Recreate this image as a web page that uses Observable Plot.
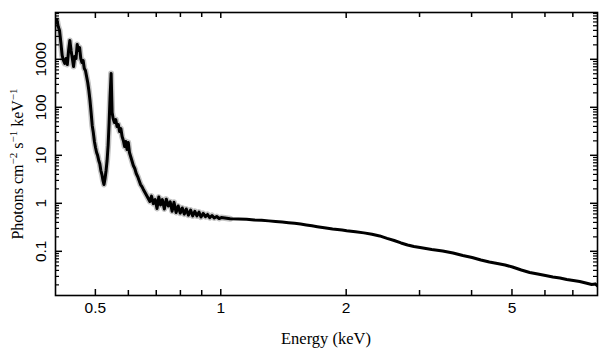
<!DOCTYPE html>
<html><head><meta charset="utf-8">
<script src="https://cdn.jsdelivr.net/npm/d3@7"></script>
<script src="https://cdn.jsdelivr.net/npm/@observablehq/plot@0.6"></script>
<style>html,body{margin:0;padding:0;background:#fff}#chart{width:609px;height:357px}</style>
</head><body><div id="chart"></div>
<script>
// Energy (keV) and flux (photons cm^-2 s^-1 keV^-1)
const energy = [
  0.400,0.403,0.406,0.409,0.412,0.415,0.418,0.421,0.424,0.427,0.430,0.433,0.436,0.439,0.442,0.445,0.448,0.451,0.454,0.457,
  0.460,0.463,0.466,0.469,0.472,0.475,0.478,0.481,0.484,0.487,0.490,0.493,0.496,0.499,0.502,0.505,0.508,0.511,0.514,0.517,
  0.520,0.523,0.526,0.529,0.532,0.535,0.538,0.541,0.544,0.547,0.550,
  0.554,0.558,0.562,0.566,0.570,0.574,0.578,0.582,0.586,0.590,0.594,0.598,0.602,0.606,0.610,
  0.615,0.620,0.625,0.630,0.635,0.640,0.645,0.650,
  0.656,0.662,0.668,0.674,0.680,
  0.687,0.694,0.701,0.708,0.715,0.722,
  0.730,0.738,0.746,0.754,0.762,0.770,
  0.779,0.788,0.797,0.806,0.815,0.824,
  0.834,0.844,0.854,0.864,0.874,0.884,0.894,
  0.905,0.916,0.927,0.938,0.950,0.962,0.975,0.988,1.000,
  1.05,1.1,1.15,1.2,1.25,1.3,1.35,1.4,1.45,1.5,1.55,1.6,1.65,1.7,1.75,1.8,1.85,1.9,1.95,2.0,
  2.1,2.2,2.3,2.4,2.5,2.6,2.7,2.8,2.9,3.0,3.2,3.4,3.6,3.8,4.0,4.2,4.4,4.6,4.8,5.0,
  5.25,5.5,5.75,6.0,6.25,6.5,6.75,7.0,7.25,7.5,7.75,7.9,8.0
];
const flux = [
  5990,6910,4940,4080,2290,1230,967,838,1064,798,1560,2520,1560,1064,724,1170,1064,2080,1560,1800,
  1064,879,967,659,599,449,337,229,142,79.8,42.8,30.5,19.9,14.9,11.7,10.1,7.98,6.84,4.94,4.08,
  3.06,2.52,3.37,4.94,7.98,16.4,49.4,180,519,79.8,59.9,
  49.4,57.0,40.8,44.9,32.1,37.0,25.2,20.8,15.6,19.9,13.5,18.9,11.7,9.67,7.98,
  6.28,5.44,4.28,3.70,3.06,2.52,2.29,1.99,
  1.72,1.49,1.29,1.12,1.45,
  1.01,1.23,0.80,1.38,0.95,1.22,
  0.78,1.25,0.90,1.10,0.70,1.08,
  0.66,0.90,0.64,0.82,0.61,0.78,
  0.58,0.74,0.56,0.70,0.56,0.67,0.53,
  0.63,0.54,0.60,0.515,0.571,0.506,0.544,0.494,0.518,
  0.488,0.482,0.476,0.460,0.455,0.441,0.430,0.418,0.405,0.392,0.378,0.362,0.348,0.334,0.322,0.310,0.300,0.293,0.285,0.276,
  0.262,0.248,0.232,0.214,0.190,0.172,0.153,0.139,0.129,0.123,0.112,0.104,0.0944,0.0838,0.0761,0.0675,0.0613,0.0571,0.0531,0.0482,
  0.0418,0.0371,0.0345,0.0321,0.0299,0.0285,0.0265,0.0252,0.0241,0.0224,0.0208,0.0215,0.0194
];
const xTicks = [0.5,0.6,0.7,0.8,0.9,1,2,3,4,5,6,7];
const xTickLabels = [0.5,1,2,5];
const yTickLabels = [0.1,1,10,100,1000];
const yMinorTicks = [0.02,0.03,0.04,0.05,0.06,0.07,0.08,0.09,0.2,0.3,0.4,0.5,0.6,0.7,0.8,0.9,
  2,3,4,5,6,7,8,9,20,30,40,50,60,70,80,90,200,300,400,500,600,700,800,900,2000,3000,4000,5000,6000,7000,8000,9000];
const xTitle = "Energy (keV)";
const yTitleParts = [["Photons cm", false], ["\u22122", true], [" s", false], ["\u22121", true], [" keV", false], ["\u22121", true]];

const data = energy.map((e, i) => ({e, f: flux[i]}));
const W = 609, H = 357, mL = 55, mR = 12, mT = 12, mB = 62;
const sans = "'Liberation Sans', Arial, Helvetica, sans-serif";
const serif = "'Liberation Serif', 'Times New Roman', serif";

const svg = Plot.plot({
  width: W, height: H,
  marginLeft: mL, marginRight: mR, marginTop: mT, marginBottom: mB,
  x: {type: "log", domain: [0.4, 8.0], axis: null},
  y: {type: "log", domain: [0.0123, 9670], axis: null},
  style: {background: "#fff", color: "#000"},
  marks: [
    Plot.line(data.filter(d => d.e <= 1.05), {x: "e", y: "f", stroke: "#c4c4c4", strokeWidth: 6, clip: true}),
    Plot.line(data, {x: "e", y: "f", stroke: "#000", strokeWidth: 3, clip: true}),
    Plot.frame({stroke: "#000", strokeWidth: 1.6})
  ]
});

const sx = v => svg.scale("x").apply(v);
const sy = v => svg.scale("y").apply(v);
const fTop = mT, fBottom = H - mB, fLeft = mL, fRight = W - mR;
const s = d3.select(svg);
const g = s.append("g").attr("class", "inward-ticks");

// inward ticks on all four sides, placed through the plot's own scales
function tick(x1, y1, x2, y2, sw) {
  g.append("path").attr("d", `M${x1},${y1}L${x2},${y2}`)
    .attr("stroke", "#000").attr("stroke-width", sw).attr("fill", "none")
    .style("stroke", "#000").style("stroke-width", sw + "px");
}
for (const v of xTicks) {
  const len = xTickLabels.includes(v) ? 6 : 5;
  const x = sx(v);
  tick(x, fBottom, x, fBottom - len, 1.5);
  tick(x, fTop, x, fTop + len, 1.5);
}
for (const v of yTickLabels) {
  const y = sy(v);
  tick(fLeft, y, fLeft + 7, y, 1.5);
  tick(fRight, y, fRight - 7, y, 1.5);
}
for (const v of yMinorTicks) {
  const y = sy(v);
  if (y < fTop || y > fBottom) continue;
  tick(fLeft, y, fLeft + 4, y, 1.2);
  tick(fRight, y, fRight - 4, y, 1.2);
}

// tick labels
for (const v of xTickLabels) {
  s.append("text").attr("x", sx(v)).attr("y", 313.3).attr("text-anchor", "middle")
    .style("font-family", sans).style("font-size", "15.5px").attr("fill", "#000").text(String(v));
}
for (const v of yTickLabels) {
  s.append("text").attr("transform", `translate(46,${sy(v)}) rotate(-90)`).attr("text-anchor", "middle")
    .style("font-family", sans).style("font-size", "15.5px").attr("fill", "#000").text(String(v));
}

// axis titles
s.append("text")
  .attr("x", (fLeft + fRight) / 2).attr("y", 343.5)
  .attr("text-anchor", "middle")
  .style("font-family", serif).style("font-size", "16.5px").attr("fill", "#000")
  .text(xTitle);

const yt = s.append("text")
  .attr("transform", "translate(23,164) rotate(-90)")
  .attr("text-anchor", "middle")
  .style("font-family", serif).style("font-size", "16px").attr("fill", "#000");
let shifted = false;
for (const [t, sup] of yTitleParts) {
  const ts = yt.append("tspan").text(t);
  if (sup) { ts.attr("dy", -6).style("font-size", "11px"); shifted = true; }
  else if (shifted) { ts.attr("dy", 6); shifted = false; }
}

document.getElementById("chart").appendChild(svg);
</script>
</body></html>
